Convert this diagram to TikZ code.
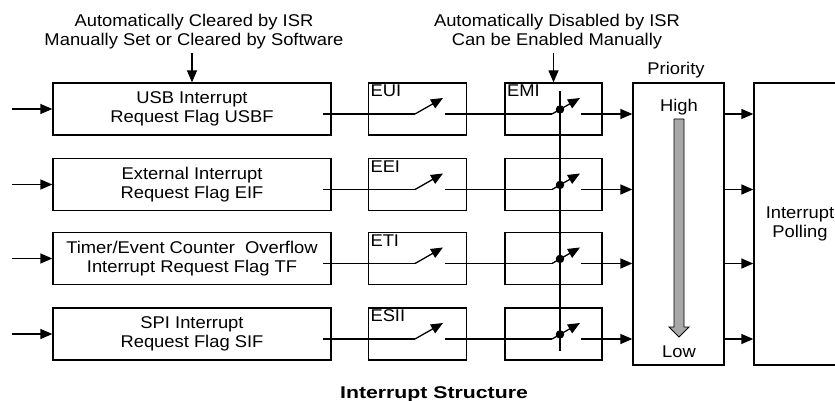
\documentclass[tikz,border=0pt]{standalone}
\usepackage{fontspec}
\setmainfont[FakeStretch=1.08]{Liberation Sans}
\newfontfamily\titlefont[FakeStretch=1.25]{Liberation Sans}
\usetikzlibrary{arrows.meta}
\definecolor{arrowgray}{HTML}{A8A8A8}
\begin{document}
\begin{tikzpicture}[x=1pt,y=-1pt, line width=1.3pt,
  txt/.style={font=\fontsize{17}{19.5}\selectfont, align=center, inner sep=0pt},
  flagbox/.style={draw, minimum width=278pt, minimum height=52pt, txt},
  swbox/.style={draw, minimum width=98pt, minimum height=52pt, inner sep=0pt},
  tagtxt/.style={font=\fontsize{17}{19.5}\selectfont, anchor=north west, inner sep=2pt},
  arr/.style={-{Triangle[length=12pt,width=10pt]}},
  jdot/.style={circle, fill, inner sep=0pt, minimum size=8.5pt},
  bigbox/.style={draw, minimum height=282pt, txt},
]
\useasboundingbox (0,0) rectangle (835,401);
\clip (0,0) rectangle (835,401);

% top texts
\node[txt] (t1) at (194,31.5) {Automatically Cleared by ISR\\Manually Set or Cleared by Software};
\node[txt] (t2) at (557,31.5) {Automatically Disabled by ISR\\Can be Enabled Manually};

% flag boxes
\node[flagbox] (f1) at (192,109) {USB Interrupt\\Request Flag USBF};
\node[flagbox] (f2) at (192,184.5) {External Interrupt\\Request Flag EIF};
\node[flagbox] (f3) at (192,258.5) {Timer/Event Counter\ \ Overflow\\Interrupt Request Flag TF};
\node[flagbox] (f4) at (192,334) {SPI Interrupt\\Request Flag SIF};

% enable boxes
\node[swbox] (e1) at (417.5,109) {};
\node[swbox] (e2) at (417.5,184.5) {};
\node[swbox] (e3) at (417.5,258.5) {};
\node[swbox] (e4) at (417.5,334) {};
\node[tagtxt] (le1) at (e1.north west) {EUI};
\node[tagtxt] (le2) at (e2.north west) {EEI};
\node[tagtxt] (le3) at (e3.north west) {ETI};
\node[tagtxt] (le4) at (e4.north west) {ESII};

% master boxes
\node[swbox, minimum width=97pt] (m1) at (553.5,109) {};
\node[swbox, minimum width=97pt] (m2) at (553.5,184.5) {};
\node[swbox, minimum width=97pt] (m3) at (553.5,258.5) {};
\node[swbox, minimum width=97pt] (m4) at (553.5,334) {};
\node[tagtxt] (lm1) at (m1.north west) {EMI};

% priority and polling
\node[bigbox, minimum width=91pt] (pr) at (678.5,224) {};
\node[txt, anchor=base] (prl) at (676,75) {Priority};
\node[txt, anchor=base] (hi) at (679,112) {High};
\node[txt, anchor=base] (lo) at (679,357) {Low};
\node[bigbox, minimum width=92pt] (po) at (800,224) {Interrupt\\Polling};

% gray priority arrow
\filldraw[fill=arrowgray, line width=0.9pt] (674,119) -- (684,119) -- (684,327) -- (689,327) -- (679,337) -- (669,327) -- (674,327) -- cycle;

% top arrows
\coordinate (ta1) at (192,53);
\coordinate (ta2) at (553.5,53);
\draw[arr] (ta1) -- (f1.north);
\draw[arr] (ta2) -- (m1.north);

% vertical enable bus
\coordinate (bt) at (560,91);
\coordinate (bb) at (560,351);
\draw (bt) -- (bb);

% rows
\foreach \i/\cy/\y in {1/109/114,2/184.5/189.5,3/258.5/263.5,4/334/339} {
  \coordinate (in\i) at (12,\cy);
  \draw[arr] (in\i) -- (f\i.west);
  \coordinate (s\i) at (323,\y);
  \coordinate (p\i) at (415,\y);
  \coordinate (q\i) at (443,\y-16);
  \coordinate (r\i) at (445,\y);
  \coordinate (u\i) at (552,\y);
  \coordinate (v\i) at (580,\y-16);
  \coordinate (w\i) at (581,\y);
  \draw (s\i) -- (p\i);
  \draw[arr] (p\i) -- (q\i);
  \draw (r\i) -- (u\i);
  \draw[arr] (u\i) -- (v\i);
  \node[jdot] (d\i) at (560,\y-4.6) {};
  \draw[arr] (w\i) -- (w\i -| pr.west);
  \draw[arr] (w\i -| pr.east) -- (w\i -| po.west);
}

% title
\node[font=\titlefont\bfseries\fontsize{17}{20}\selectfont, anchor=base, inner sep=0pt] (title) at (434,398) {Interrupt Structure};
\end{tikzpicture}
\end{document}
